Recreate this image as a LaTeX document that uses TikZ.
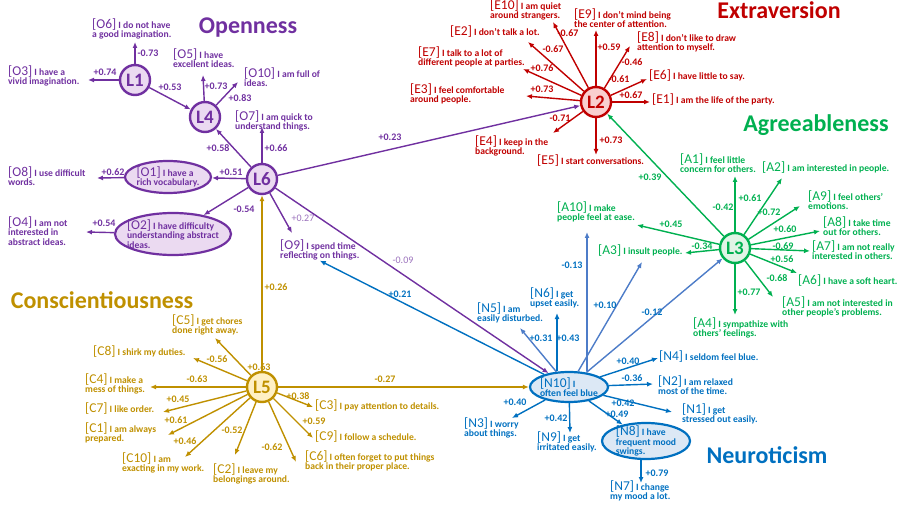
\documentclass[tikz,border=0pt]{standalone}
\usepackage{fontspec}
\setmainfont{Carlito}
\usetikzlibrary{shapes.geometric,arrows.meta}

\definecolor{opn}{HTML}{7030A0}
\definecolor{ext}{HTML}{C00000}
\definecolor{agr}{HTML}{00B050}
\definecolor{con}{HTML}{BF9000}
\definecolor{neu}{HTML}{0070C0}
\definecolor{neult}{HTML}{4D7CC8}
\definecolor{opnlt}{HTML}{9B72BC}
\definecolor{opnfl}{HTML}{EBDAF1}
\definecolor{extfl}{HTML}{F9CFCF}
\definecolor{agrfl}{HTML}{E0F4E6}
\definecolor{confl}{HTML}{FFF0C4}
\definecolor{neufl}{HTML}{DCE8F5}

\newcommand{\itemfont}{\fontsize{9.6}{9.5}\selectfont\bfseries\lineskiplimit=-20pt\relax}
\newcommand{\cd}[1]{{\fontsize{13.5}{9.5}\selectfont\mdseries #1}}

\tikzset{
  fac/.style={circle, draw=#1, fill=#1fl, line width=2.4pt, minimum size=30pt,
    inner sep=0pt, text=#1, font=\fontsize{19}{19}\selectfont\bfseries},
  ell/.style={ellipse, draw=#1, fill=#1fl, line width=2.2pt, inner sep=0pt},
  itx/.style={text=#1, font=\itemfont, align=left, inner sep=0pt},
  itm/.style={itx=#1, anchor=west},
  ar/.style={draw=#1, line width=1.4pt, -{Latex[length=6pt,width=5pt]}},
  lab/.style={text=#1, font=\fontsize{10}{10}\selectfont\bfseries, inner sep=0pt},
  ttl/.style={text=#1, font=\fontsize{24}{24}\selectfont\bfseries, inner sep=0pt}
}

\begin{document}
\begin{tikzpicture}[x=1pt,y=-1pt]
\useasboundingbox (0,0) rectangle (901,510);

% titles
\node[ttl=opn] (tO) at (248,28) {Openness};
\node[ttl=ext] (tE) at (779,10) {Extraversion};
\node[ttl=agr] (tA) at (816,125) {Agreeableness};
\node[ttl=con] (tC) at (102,300) {Conscientiousness};
\node[ttl=neu] (tN) at (767,455) {Neuroticism};

% latent factors
\node[fac=opn] (L1) at (135,80) {L1};
\node[fac=opn] (L4) at (205,117) {L4};
\node[fac=opn] (L6) at (262,179) {L6};
\node[fac=ext] (L2) at (596,102) {L2};
\node[fac=agr] (L3) at (735,248) {L3};
\node[fac=con] (L5) at (262,387) {L5};

% ellipse items
\node[ell=opn, minimum width=86pt, minimum height=32pt,
  label={[itx=opn]center:{\cd{[O1]} I have a\\rich vocabulary.}}] (O1) at (168,177) {};
\node[ell=opn, minimum width=116pt, minimum height=42pt,
  label={[itx=opn]center:{\cd{[O2]} I have difficulty\\understanding abstract\\ideas.}}] (O2) at (173,234) {};
\node[ell=neu, minimum width=78pt, minimum height=30pt,
  label={[itx=neu]center:{\cd{[N10]} I\\often feel blue}}] (N10) at (569,387) {};
\node[ell=neu, minimum width=88pt, minimum height=36pt,
  label={[itx=neu]center:{\cd{[N8]} I have\\frequent mood\\swings.}}] (N8) at (646,441) {};

% Openness
\node[itm=opn] (O6) at (92,29) {\cd{[O6]} I do not have\\a good imagination.};
\node[itm=opn] (O3) at (8,76) {\cd{[O3]} I have a\\vivid imagination.};
\node[itm=opn] (O5) at (173,58) {\cd{[O5]} I have\\excellent ideas.};
\node[itm=opn] (O10) at (244,77) {\cd{[O10]} I am full of\\ideas.};
\node[itm=opn] (O7) at (235,121) {\cd{[O7]} I am quick to\\understand things.};
\node[itm=opn] (O8) at (8,176) {\cd{[O8]} I use difficult\\words.};
\node[itm=opn] (O4) at (8,231) {\cd{[O4]} I am not\\interested in\\abstract ideas.};
\node[itm=opn] (O9) at (280,250) {\cd{[O9]} I spend time\\reflecting on things.};

\coordinate (O6t) at (135,42);
\coordinate (O3t) at (88,80);
\coordinate (O5t) at (203,75);
\coordinate (O10t) at (238,82);
\coordinate (O7t) at (262,127);
\coordinate (O8t) at (97,178);
\coordinate (O4t) at (86,232);
\coordinate (O9t) at (292,233);

\draw[ar=opn] (L1) -- (O6t) node[lab=opn] at (148,53) {-0.73};
\draw[ar=opn] (L1) -- (O3t) node[lab=opn] at (105,72) {+0.74};
\draw[ar=opn] (L1) -- (L4) node[lab=opn] at (170,87) {+0.53};
\draw[ar=opn] (L4) -- (O5t) node[lab=opn] at (216,86) {+0.73};
\draw[ar=opn] (L4) -- (O10t) node[lab=opn] at (240,98) {+0.83};
\draw[ar=opn] (L6) -- (L4) node[lab=opn] at (218,148) {+0.58};
\draw[ar=opn] (L6) -- (O7t) node[lab=opn] at (276,148) {+0.66};
\draw[ar=opn] (L6) -- (O1) node[lab=opn] at (231,172) {+0.51};
\draw[ar=opn] (O1) -- (O8t) node[lab=opn] at (113,172) {+0.62};
\draw[ar=opn] (L6) -- (O2) node[lab=opn] at (244,209) {-0.54};
\draw[ar=opn] (O2) -- (O4t) node[lab=opn] at (104,223) {+0.54};
\draw[ar=opn] (L6) -- (O9t) node[lab=opnlt, font=\fontsize{10}{10}\selectfont] at (303,218) {+0.27};
\draw[ar=opn] (L6) -- (L2) node[lab=opn] at (390,137) {+0.23};
\draw[ar=opn] (L6) -- (N10) node[lab=opnlt, font=\fontsize{10}{10}\selectfont] at (403,260) {-0.09};

% Extraversion
\node[itm=ext] (E10) at (490,10) {\cd{[E10]} I am quiet\\around strangers.};
\node[itm=ext] (E9) at (574,18) {\cd{[E9]} I don't mind being\\the center of attention.};
\node[itm=ext] (E8) at (637,42) {\cd{[E8]} I don't like to draw\\attention to myself.};
\node[itm=ext] (E6) at (649,76) {\cd{[E6]} I have little to say.};
\node[itm=ext] (E1) at (652,100) {\cd{[E1]} I am the life of the party.};
\node[itm=ext] (E2) at (450,32) {\cd{[E2]} I don't talk a lot.};
\node[itm=ext] (E7) at (418,57) {\cd{[E7]} I talk to a lot of\\different people at parties.};
\node[itm=ext] (E3) at (410,94) {\cd{[E3]} I feel comfortable\\around people.};
\node[itm=ext] (E4) at (475,146) {\cd{[E4]} I keep in the\\background.};
\node[itm=ext] (E5) at (537,161) {\cd{[E5]} I start conversations.};

\coordinate (E10t) at (553,22);
\coordinate (E9t) at (596,30);
\coordinate (E8t) at (630,46);
\coordinate (E6t) at (647,79);
\coordinate (E1t) at (650,102);
\coordinate (E2t) at (528,42);
\coordinate (E7t) at (523,69);
\coordinate (E3t) at (526,96);
\coordinate (E4t) at (553,133);
\coordinate (E5t) at (596,155);

\draw[ar=ext] (L2) -- (E10t) node[lab=ext] at (568,33) {-0.67};
\draw[ar=ext] (L2) -- (E9t) node[lab=ext] at (609,47) {+0.59};
\draw[ar=ext] (L2) -- (E8t) node[lab=ext] at (632,62) {-0.46};
\draw[ar=ext] (L2) -- (E6t) node[lab=ext] at (619,79) {-0.61};
\draw[ar=ext] (L2) -- (E1t) node[lab=ext] at (631,95) {+0.67};
\draw[ar=ext] (L2) -- (E2t) node[lab=ext] at (553,49) {-0.67};
\draw[ar=ext] (L2) -- (E7t) node[lab=ext] at (542,68) {+0.76};
\draw[ar=ext] (L2) -- (E3t) node[lab=ext] at (542,89) {+0.73};
\draw[ar=ext] (L2) -- (E4t) node[lab=ext] at (560,118) {-0.71};
\draw[ar=ext] (L2) -- (E5t) node[lab=ext] at (611,140) {+0.73};

% Agreeableness
\node[itm=agr] (A1) at (680,163) {\cd{[A1]} I feel little\\concern for others.};
\node[itm=agr] (A2) at (762,168) {\cd{[A2]} I am interested in people.};
\node[itm=agr] (A9) at (808,200) {\cd{[A9]} I feel others'\\emotions.};
\node[itm=agr] (A8) at (823,226) {\cd{[A8]} I take time\\out for others.};
\node[itm=agr] (A7) at (812,250) {\cd{[A7]} I am not really\\interested in others.};
\node[itm=agr] (A6) at (798,281) {\cd{[A6]} I have a soft heart.};
\node[itm=agr] (A5) at (782,307) {\cd{[A5]} I am not interested in\\other people's problems.};
\node[itm=agr] (A4) at (693,328) {\cd{[A4]} I sympathize with\\others' feelings.};
\node[itm=agr] (A10) at (557,212) {\cd{[A10]} I make\\people feel at ease.};
\node[itm=agr] (A3) at (598,251) {\cd{[A3]} I insult people.};

\coordinate (A1t) at (735,176);
\coordinate (A2t) at (782,178);
\coordinate (A9t) at (800,206);
\coordinate (A8t) at (820,231);
\coordinate (A7t) at (810,251);
\coordinate (A6t) at (797,273);
\coordinate (A5t) at (773,297);
\coordinate (A4t) at (735,315);
\coordinate (A10t) at (637,225);
\coordinate (A3t) at (685,253);

\draw[ar=agr] (L3) -- (L2) node[lab=agr] at (650,177) {+0.39};
\draw[ar=agr] (L3) -- (A1t) node[lab=agr] at (723,207) {-0.42};
\draw[ar=agr] (L3) -- (A2t) node[lab=agr] at (750,198) {+0.61};
\draw[ar=agr] (L3) -- (A9t) node[lab=agr] at (769,212) {+0.72};
\draw[ar=agr] (L3) -- (A8t) node[lab=agr] at (785,229) {+0.60};
\draw[ar=agr] (L3) -- (A7t) node[lab=agr] at (783,246) {-0.69};
\draw[ar=agr] (L3) -- (A6t) node[lab=agr] at (782,259) {+0.56};
\draw[ar=agr] (L3) -- (A5t) node[lab=agr] at (777,278) {-0.68};
\draw[ar=agr] (L3) -- (A4t) node[lab=agr] at (749,292) {+0.77};
\draw[ar=agr] (L3) -- (A10t) node[lab=agr] at (671,224) {+0.45};
\draw[ar=agr] (L3) -- (A3t) node[lab=agr] at (702,246) {-0.34};

% Conscientiousness
\node[itm=con] (C5) at (172,325) {\cd{[C5]} I get chores\\done right away.};
\node[itm=con] (C8) at (93,352) {\cd{[C8]} I shirk my duties.};
\node[itm=con] (C4) at (85,384) {\cd{[C4]} I make a\\mess of things.};
\node[itm=con] (C7) at (85,409) {\cd{[C7]} I like order.};
\node[itm=con] (C1) at (85,433) {\cd{[C1]} I am always\\prepared.};
\node[itm=con] (C10) at (122,463) {\cd{[C10]} I am\\exacting in my work.};
\node[itm=con] (C2) at (213,474) {\cd{[C2]} I leave my\\belongings around.};
\node[itm=con] (C6) at (305,461) {\cd{[C6]} I often forget to put things\\back in their proper place.};
\node[itm=con] (C3) at (315,406) {\cd{[C3]} I pay attention to details.};
\node[itm=con] (C9) at (315,437) {\cd{[C9]} I follow a schedule.};

\coordinate (C5t) at (215,338);
\coordinate (C8t) at (193,358);
\coordinate (C4t) at (150,387);
\coordinate (C7t) at (163,412);
\coordinate (C1t) at (168,435);
\coordinate (C10t) at (185,457);
\coordinate (C2t) at (235,455);
\coordinate (C6t) at (296,462);
\coordinate (C3t) at (313,407);
\coordinate (C9t) at (313,438);

\draw[ar=con] (L5) -- (L6) node[lab=con] at (276,287) {+0.26};
\draw[ar=con] (L5) -- (N10) node[lab=con] at (385,379) {-0.27};
\draw[ar=con] (L5) -- (C5t) node[lab=con] at (259,367) {+0.63};
\draw[ar=con] (L5) -- (C8t) node[lab=con] at (217,359) {-0.56};
\draw[ar=con] (L5) -- (C4t) node[lab=con] at (197,379) {-0.63};
\draw[ar=con] (L5) -- (C7t) node[lab=con] at (178,399) {+0.45};
\draw[ar=con] (L5) -- (C1t) node[lab=con] at (176,420) {+0.61};
\draw[ar=con] (L5) -- (C10t) node[lab=con] at (185,441) {+0.46};
\draw[ar=con] (L5) -- (C2t) node[lab=con] at (232,430) {-0.52};
\draw[ar=con] (L5) -- (C6t) node[lab=con] at (272,447) {-0.62};
\draw[ar=con] (L5) -- (C3t) node[lab=con] at (298,396) {+0.38};
\draw[ar=con] (L5) -- (C9t) node[lab=con] at (314,421) {+0.59};

% Neuroticism
\node[itm=neu] (N5) at (477,313) {\cd{[N5]} I am\\easily disturbed.};
\node[itm=neu] (N6) at (530,298) {\cd{[N6]} I get\\upset easily.};
\node[itm=neu] (N4) at (659,357) {\cd{[N4]} I seldom feel blue.};
\node[itm=neu] (N2) at (658,385) {\cd{[N2]} I am relaxed\\most of the time.};
\node[itm=neu] (N1) at (682,414) {\cd{[N1]} I get\\stressed out easily.};
\node[itm=neu] (N9) at (537,442) {\cd{[N9]} I get\\irritated easily.};
\node[itm=neu] (N3) at (464,428) {\cd{[N3]} I worry\\about things.};
\node[itm=neu] (N7) at (610,491) {\cd{[N7]} I change\\my mood a lot.};

\coordinate (N5t) at (520,328);
\coordinate (N6t) at (557,313);
\coordinate (N4t) at (658,358);
\coordinate (N2t) at (653,384);
\coordinate (N1t) at (672,412);
\coordinate (N9t) at (570,433);
\coordinate (N3t) at (512,418);
\coordinate (N7t) at (641,483);
\coordinate (A10b) at (587,232);
\coordinate (A3b) at (642,262);

\draw[ar=neu] (N10) -- (O9.south) node[lab=neu] at (400,294) {+0.21};
\draw[ar=neult] (N10) -- (N5t) node[lab=neu] at (541,338) {+0.31};
\draw[ar=neu] (N10.north -| N6t) -- (N6t) node[lab=neu] at (568,338) {+0.43};
\draw[ar=neult] (N10.north -| A10b) -- (A10b) node[lab=neu] at (572,265) {-0.13};
\draw[ar=neult] (N10) -- (A3b) node[lab=neu] at (605,305) {+0.10};
\draw[ar=neult] (N10) -- (L3) node[lab=neu] at (652,312) {-0.12};
\draw[ar=neu] (N10) -- (N4t) node[lab=neu] at (628,361) {+0.40};
\draw[ar=neu] (N10) -- (N2t) node[lab=neu] at (632,378) {-0.36};
\draw[ar=neu] (N10) -- (N1t) node[lab=neu] at (623,403) {+0.42};
\draw[ar=neu] (N10) -- (N8) node[lab=neu] at (617,414) {+0.49};
\draw[ar=neu] (N10) -- (N9t) node[lab=neu] at (556,418) {+0.42};
\draw[ar=neu] (N10) -- (N3t) node[lab=neu] at (515,402) {+0.40};
\draw[ar=neu] (N8.south -| N7t) -- (N7t) node[lab=neu] at (657,473) {+0.79};
\end{tikzpicture}
\end{document}
